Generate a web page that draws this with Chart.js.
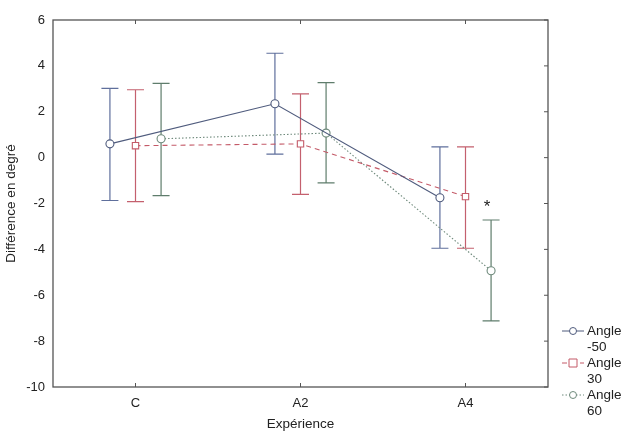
<!DOCTYPE html>
<html>
<head>
<meta charset="utf-8">
<script src="https://cdn.jsdelivr.net/npm/chart.js@4"></script>
<style>
  html, body { margin: 0; padding: 0; background: #fff; }
  #wrap { width: 624px; height: 438px; position: relative; }
</style>
</head>
<body>
<div id="wrap"><canvas id="chart" width="624" height="438"></canvas></div>
<script>
// data
const categories = ['C', 'A2', 'A4'];
const seriesNames = [['Angle', '-50'], ['Angle', '30'], ['Angle', '60']];
const offsets = [-0.155, 0, 0.155];

const meanM50 = [0.6, 2.35, -1.75];
const lowM50 = [-1.87, 0.15, -3.95];
const highM50 = [3.02, 4.55, 0.47];

const mean30 = [0.52, 0.6, -1.7];
const low30 = [-1.92, -1.6, -3.95];
const high30 = [2.96, 2.78, 0.47];

const mean60 = [0.82, 1.07, -4.93];
const low60 = [-1.66, -1.1, -7.12];
const high60 = [3.24, 3.27, -2.72];

const yTicks = [6, 4, 2, 0, -2, -4, -6, -8, -10];
const starMark = { x: 2.13, y: -2.05, text: '*' };

const FONT = '"Liberation Sans", Arial, sans-serif';

function pts(mean, k) {
	return mean.map((v, i) => ({ x: i + offsets[k], y: v }));
}

const series = [
	{ mean: meanM50, low: lowM50, high: highM50, line: '#4f5b7d', bar: '#5f6f9c', dash: [], shape: 'circle' },
	{ mean: mean30, low: low30, high: high30, line: '#c45a68', bar: '#c4606e', dash: [5, 4], shape: 'rect' },
	{ mean: mean60, low: low60, high: high60, line: '#6f8a7c', bar: '#5f7d6c', dash: [1.5, 2], shape: 'circle' }
];

// error bars, frame and inner ticks
const errorBars = {
	id: 'errorBars',
	beforeDatasetsDraw(chart) {
		const { ctx, scales: { x, y } } = chart;
		ctx.save();
		ctx.lineWidth = 1.2;
		series.forEach((s, k) => {
			ctx.strokeStyle = s.bar;
			s.mean.forEach((m, i) => {
				const px = x.getPixelForValue(i + offsets[k]);
				const top = y.getPixelForValue(s.high[i]);
				const bot = y.getPixelForValue(s.low[i]);
				ctx.beginPath();
				ctx.moveTo(px, top); ctx.lineTo(px, bot);
				ctx.moveTo(px - 8.5, top); ctx.lineTo(px + 8.5, top);
				ctx.moveTo(px - 8.5, bot); ctx.lineTo(px + 8.5, bot);
				ctx.stroke();
			});
		});
		ctx.restore();
	},
	afterDraw(chart) {
		const { ctx, chartArea: a, scales: { x, y } } = chart;
		ctx.save();
		ctx.strokeStyle = '#555';
		ctx.lineWidth = 1.3;
		ctx.strokeRect(a.left, a.top, a.right - a.left, a.bottom - a.top);
		ctx.lineWidth = 1;
		ctx.beginPath();
		yTicks.forEach((v) => {
			const py = y.getPixelForValue(v);
			ctx.moveTo(a.right, py); ctx.lineTo(a.right - 4, py);
		});
		categories.forEach((c, i) => {
			const px = x.getPixelForValue(i);
			ctx.moveTo(px, a.top); ctx.lineTo(px, a.top + 4);
			ctx.moveTo(px, a.bottom); ctx.lineTo(px, a.bottom - 4);
		});
		ctx.stroke();

		// significance mark
		ctx.fillStyle = '#222';
		ctx.font = '17px ' + FONT;
		ctx.textAlign = 'center';
		ctx.textBaseline = 'middle';
		ctx.fillText(starMark.text, x.getPixelForValue(starMark.x), y.getPixelForValue(starMark.y) + 3);

		// legend
		ctx.font = '13.5px ' + FONT;
		ctx.textAlign = 'left';
		const lx = 562, tx = 587;
		series.forEach((s, k) => {
			const ly = 331 + k * 32;
			ctx.strokeStyle = s.line;
			ctx.setLineDash(s.dash);
			ctx.beginPath();
			ctx.moveTo(lx, ly); ctx.lineTo(lx + 22, ly);
			ctx.stroke();
			ctx.setLineDash([]);
			ctx.fillStyle = '#fff';
			ctx.beginPath();
			if (s.shape === 'rect') ctx.rect(lx + 7, ly - 4, 8, 8);
			else ctx.arc(lx + 11, ly, 3.5, 0, Math.PI * 2);
			ctx.fill(); ctx.stroke();
			ctx.fillStyle = '#222';
			ctx.fillText(seriesNames[k][0], tx, ly);
			ctx.fillText(seriesNames[k][1], tx, ly + 16);
		});
		ctx.restore();
	}
};

new Chart(document.getElementById('chart'), {
	type: 'scatter',
	data: {
		datasets: series.map((s, k) => ({
			label: seriesNames[k].join(' '),
			data: pts(s.mean, k),
			showLine: true,
			borderColor: s.line,
			borderWidth: 1.1,
			borderDash: s.dash,
			pointStyle: s.shape,
			pointRadius: s.shape === 'rect' ? 4.5 : 4,
			pointBackgroundColor: '#fff',
			pointBorderColor: s.line,
			pointBorderWidth: 1.1
		}))
	},
	options: {
		responsive: false,
		animation: false,
		layout: { padding: { top: 20, right: 76, left: 0, bottom: 0 } },
		plugins: { legend: { display: false }, tooltip: { enabled: false } },
		scales: {
			x: {
				type: 'linear',
				min: -0.5,
				max: 2.5,
				afterBuildTicks: (scale) => { scale.ticks = categories.map((c, i) => ({ value: i })); },
				afterFit: (scale) => { scale.height = 51; },
				grid: { display: false, drawTicks: false },
				border: { display: false },
				ticks: {
					padding: 9,
					color: '#222',
					font: { family: FONT, size: 13 },
					callback: (v) => categories[v]
				},
				title: {
					display: true,
					text: 'Expérience',
					color: '#222',
					font: { family: FONT, size: 13.5 },
					padding: { top: 0, bottom: 6 }
				}
			},
			y: {
				min: -10,
				max: 6,
				afterBuildTicks: (scale) => { scale.ticks = yTicks.map((v) => ({ value: v })); },
				afterFit: (scale) => { scale.width = 53; },
				grid: { display: false, drawTicks: false },
				border: { display: false },
				ticks: {
					padding: 8,
					color: '#222',
					font: { family: FONT, size: 13 }
				},
				title: {
					display: true,
					text: 'Différence en degré',
					color: '#222',
					font: { family: FONT, size: 13.5 },
					padding: { top: 3, bottom: 0 }
				}
			}
		}
	},
	plugins: [errorBars]
});
</script>
</body>
</html>
